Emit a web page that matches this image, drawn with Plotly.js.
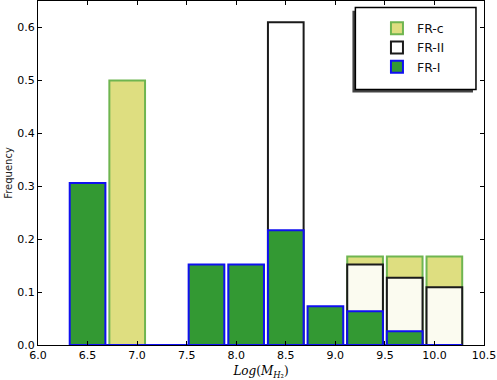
<!DOCTYPE html>
<html>
<head>
<meta charset="utf-8">
<script src="https://cdn.plot.ly/plotly-3.0.1.min.js"></script>
<style>html,body{margin:0;padding:0;background:#fff;}#chart{width:497px;height:380px;}</style>
</head>
<body>
<div id="chart"></div>
<script>
// Histogram bins (bin centres, width 0.4, bars drawn at rwidth 0.9)
var binCenters = [6.5, 6.9, 7.3, 7.7, 8.1, 8.5, 8.9, 9.3, 9.7, 10.1];
var binWidth = 0.4;
var seriesNames = ["FR-c", "FR-II", "FR-I"];
var frC  = [0, 0.500, 0, 0, 0, 0, 0, 0.167, 0.167, 0.167];
var frII = [0, 0, 0, 0, 0, 0.610, 0, 0.152, 0.127, 0.109];
var frI  = [0.306, 0, 0, 0.152, 0.152, 0.217, 0.073, 0.064, 0.026, 0];
var xTicks = [6.0, 6.5, 7.0, 7.5, 8.0, 8.5, 9.0, 9.5, 10.0, 10.5];
var yTicks = [0.0, 0.1, 0.2, 0.3, 0.4, 0.5, 0.6];

var barW = binWidth * 0.9;
function barTrace(name, vals, fill, edge) {
  return {
    type: 'bar', name: name, x: binCenters, y: vals, width: barW,
    marker: {color: fill, line: {color: edge, width: 2}},
    hoverinfo: 'x+y'
  };
}
var first = binCenters[0] - barW / 2;
var last = binCenters[binCenters.length - 1] + barW / 2;
var traces = [
  barTrace(seriesNames[0], frC, '#dede80', '#6fb550'),
  barTrace(seriesNames[1], frII, 'rgba(255,255,255,0.88)', '#1a1a1a'),
  barTrace(seriesNames[2], frI, '#339933', '#1010f0'),
  {type: 'scatter', mode: 'lines', x: [first, last], y: [0, 0], showlegend: false,
   line: {color: '#1010f0', width: 2}, hoverinfo: 'skip'}
];

var axisCommon = {
  showline: true, linecolor: '#000', linewidth: 1, mirror: 'ticks',
  ticks: 'inside', ticklen: 4, tickcolor: '#000', tickwidth: 1,
  showgrid: false, zeroline: false, tickformat: '.1f',
  tickfont: {family: 'DejaVu Sans', size: 11, color: '#000'}
};
var layout = {
  width: 497, height: 380,
  margin: {l: 38, r: 13, t: 1, b: 35},
  paper_bgcolor: '#fff', plot_bgcolor: '#fff',
  barmode: 'overlay', bargap: 0,
  showlegend: true,
  legend: {
    x: 0.76, y: 0.963, xanchor: 'left', yanchor: 'top',
    bgcolor: 'rgba(0,0,0,0)', borderwidth: 0,
    font: {family: 'DejaVu Sans', size: 12.5, color: '#111'},
    traceorder: 'normal', itemwidth: 30
  },
  xaxis: Object.assign({}, axisCommon, {
    range: [6.0, 10.5], tickvals: xTicks,
    title: {text: '<i>Log</i>(<i>M</i><sub><i>H</i>₂</sub>)', standoff: 6,
            font: {family: 'DejaVu Serif', size: 12, color: '#000'}}
  }),
  yaxis: Object.assign({}, axisCommon, {
    range: [0, 0.65], tickvals: yTicks,
    title: {text: 'Frequency', standoff: 2,
            font: {family: 'DejaVu Sans', size: 10, color: '#222'}}
  }),
  shapes: [
    {type: 'rect', xref: 'paper', yref: 'paper', x0: 0.705, x1: 0.9753, y0: 0.734, y1: 0.972,
     fillcolor: '#444', line: {width: 0}, layer: 'above'},
    {type: 'rect', xref: 'paper', yref: 'paper', x0: 0.7116, x1: 0.982, y0: 0.743, y1: 0.981,
     fillcolor: '#fff', line: {color: '#000', width: 1.5}, layer: 'above'}
  ]
};
Plotly.newPlot('chart', traces, layout, {staticPlot: true});
</script>
</body>
</html>
